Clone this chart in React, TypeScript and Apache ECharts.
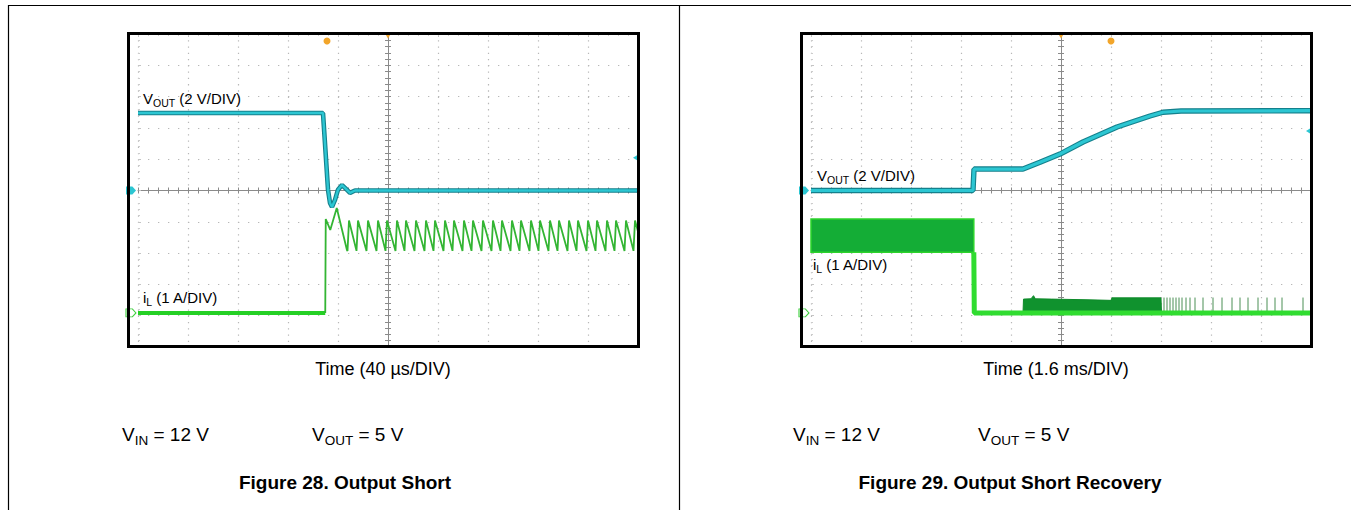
import React, { useEffect, useRef } from "react";
import * as echarts from "echarts";

const FONT = '"Liberation Sans", Arial, Helvetica, sans-serif';

// ---------- Figure 28: Output Short (time in µs from trigger, 40 µs/DIV) ----------
const shortTimeRange = [-200, 200];
const shortTimeDiv = 40;
// VOUT (V)
const vOutShort: number[][] = [
  [-200, 4.95], [-52.0, 4.95], [-50.4, 3.0], [-48.0, 0.05], [-46.4, -0.8],
  [-44.8, -1.05], [-42.4, -0.6], [-40.0, 0.05], [-36.8, 0.35], [-33.6, 0.1],
  [-30.4, -0.15], [-26.4, 0.0], [200, 0.0],
];
// iL (A)
const iLBeforeShort: number[][] = [[-200, 0], [-50.2, 0]];
const iLAfterShort: number[][] = [
  [-50.2, 0], [-49.8, 3.0], [-46.2, 2.65], [-41.0, 3.35], [-32.8, 2.0],
  [-32.4, 1.98], [-31.2, 2.95], [-25.2, 1.98], [-24.0, 2.95], [-17.2, 1.98], [-16.0, 2.95],
  [-9.2, 1.98], [-8.0, 2.95], [-2.0, 1.98], [-0.8, 2.95], [6.0, 1.98], [7.2, 2.95],
  [13.2, 1.98], [14.4, 2.95], [21.2, 1.98], [22.4, 2.95], [29.2, 1.98], [30.4, 2.95],
  [36.4, 1.98], [37.6, 2.95], [44.4, 1.98], [45.6, 2.95], [51.6, 1.98], [52.8, 2.95],
  [59.6, 1.98], [60.8, 2.95], [66.8, 1.98], [68.0, 2.95], [74.8, 1.98], [76.0, 2.95],
  [82.8, 1.98], [84.0, 2.95], [90.0, 1.98], [91.2, 2.95], [98.0, 1.98], [99.2, 2.95],
  [105.2, 1.98], [106.4, 2.95], [113.2, 1.98], [114.4, 2.95], [120.4, 1.98], [121.6, 2.95],
  [128.4, 1.98], [129.6, 2.95], [135.6, 1.98], [136.8, 2.95], [143.6, 1.98], [144.8, 2.95],
  [150.8, 1.98], [152.0, 2.95], [158.8, 1.98], [160.0, 2.95], [166.0, 1.98], [167.2, 2.95],
  [174.0, 1.98], [175.2, 2.95], [181.2, 1.98], [182.4, 2.95], [189.2, 1.98], [190.4, 2.95],
  [196.4, 1.98], [197.6, 2.95], [200, 2.6],
];
const shortCursorTime = -48.8;
const shortTrigLevel = 2.1;

// ---------- Figure 29: Output Short Recovery (time in µs from trigger, 1.6 ms/DIV) ----------
const recTimeRange = [-8000, 8000];
const recTimeDiv = 1600;
const vOutRecovery: number[][] = [
  [-8000, 0], [-2816, 0], [-2784, 1.37], [-1216, 1.37], [-672, 1.8], [-32, 2.33],
  [704, 3.1], [1792, 4.06], [2848, 4.76], [3264, 5.0], [3840, 5.08], [8000, 5.1],
];
// [tStart, tEnd, iLow, iHigh] of the switching envelope
const iLSwitchBand: number[][] = [[-8000, -2790, 1.94, 3.0]];
const iLRecovery: number[][] = [[-2790, 1.94], [-2775, 0], [8000, 0]];
const iLRecoveryBurst: number[][] = [
  [-1216, 0], [-1200, 0.44], [-960, 0.45], [-880, 0.55], [-820, 0.45], [-300, 0.44],
  [800, 0.42], [1600, 0.4], [1632, 0.48], [3200, 0.48], [3216, 0],
];
const iLSpikeTimes = [
  3296, 3392, 3488, 3584, 3680, 3776, 3872, 4000, 4128, 4288, 4544, 4864, 5152,
  5472, 5728, 5984, 6304, 6592, 6848, 7072, 7744,
];
const iLSpikeLevel = 0.49;
const recCursorTime = 1600;
const recTrigLevel = 3.8;

// ---------- vertical scales (10 divisions) ----------
const voltRange = [-10, 10]; // 2 V/DIV
const voltDiv = 2;
const ampRange = [-1.09, 8.91]; // 1 A/DIV

const DOT = "#b8b8b8";
const CROSS = "#8a8a8a";
const CYAN = "#2cc6d2";
const CYAN_DARK = "#14808c";
const GREEN = "#25d025";

function xAxesFor(g: number, range: number[], div: number) {
  const base = { gridIndex: g, type: "value", min: range[0], max: range[1], interval: div, axisLabel: { show: false } };
  return [
    {
      ...base, position: "bottom",
      axisLine: { show: false, onZero: false }, axisTick: { show: false },
      splitLine: { show: true, lineStyle: { color: DOT, width: 1.2, type: [1.3, 4.96] } },
    },
    {
      ...base, position: "bottom",
      axisLine: { show: true, onZero: true, onZeroAxisIndex: g * 4, lineStyle: { color: CROSS, width: 1 } },
      axisTick: { show: true, inside: false, length: 3, lineStyle: { color: CROSS } },
      minorTick: { show: true, splitNumber: 5, length: 3, lineStyle: { color: CROSS } },
      splitLine: { show: false },
    },
    {
      ...base, position: "bottom",
      axisLine: { show: false, onZero: true, onZeroAxisIndex: g * 4 },
      axisTick: { show: true, inside: true, length: 3, lineStyle: { color: CROSS } },
      minorTick: { show: true, splitNumber: 5, length: 3, lineStyle: { color: CROSS } },
      splitLine: { show: false },
    },
    {
      ...base, position: "top",
      axisLine: { show: false, onZero: false },
      axisTick: { show: true, inside: true, length: 3, lineStyle: { color: "#c4c4c4" } },
      minorTick: { show: true, splitNumber: 5, length: 2, lineStyle: { color: "#cccccc" } },
      splitLine: { show: false },
    },
  ];
}

function yAxesFor(g: number) {
  const volt = { gridIndex: g, type: "value", min: voltRange[0], max: voltRange[1], interval: voltDiv, position: "left", axisLabel: { show: false } };
  return [
    {
      ...volt,
      axisLine: { show: true, onZero: true, onZeroAxisIndex: g * 4, lineStyle: { color: CROSS, width: 1 } },
      axisTick: { show: true, inside: true, length: 3, lineStyle: { color: CROSS } },
      minorTick: { show: true, splitNumber: 5, length: 3, lineStyle: { color: CROSS } },
      splitLine: { show: true, lineStyle: { color: DOT, width: 1.2, type: [1.3, 8.7] } },
    },
    {
      ...volt,
      axisLine: { show: false, onZero: true, onZeroAxisIndex: g * 4 },
      axisTick: { show: true, inside: false, length: 3, lineStyle: { color: CROSS } },
      minorTick: { show: true, splitNumber: 5, length: 3, lineStyle: { color: CROSS } },
      splitLine: { show: false },
    },
    { gridIndex: g, type: "value", min: ampRange[0], max: ampRange[1], position: "left", show: false },
    {
      ...volt,
      axisLine: { show: false, onZero: false },
      axisTick: { show: true, inside: true, length: 3, lineStyle: { color: "#c4c4c4" } },
      minorTick: { show: true, splitNumber: 5, length: 2, lineStyle: { color: "#cccccc" } },
      splitLine: { show: false },
    },
  ];
}

const groundMarkPath = "path://M0,0L7,0L11,4L7,8L0,8Z";

function vOutSeries(g: number, data: number[][], tMin: number, tMax: number, cursorT: number, trigLevel: number, w: number) {
  return [
    {
      type: "line", xAxisIndex: g * 4, yAxisIndex: g * 4, data, symbol: "none", silent: true,
      lineStyle: { color: CYAN_DARK, width: w + 2.2 }, z: 5,
    },
    {
      type: "line", xAxisIndex: g * 4, yAxisIndex: g * 4, data, symbol: "none", silent: true,
      lineStyle: { color: CYAN, width: w }, z: 6,
      markPoint: {
        silent: true, label: { show: false },
        data: [
          { coord: [tMin, 0], symbol: groundMarkPath, symbolSize: [10, 8], symbolOffset: [-7, 0], itemStyle: { color: CYAN } },
          { coord: [tMax, trigLevel], symbol: "triangle", symbolRotate: 90, symbolSize: [5, 4], symbolOffset: [-3, 0], itemStyle: { color: CYAN } },
          { coord: [cursorT, voltRange[1]], symbol: "circle", symbolSize: 7, symbolOffset: [0, 7], itemStyle: { color: "#f2a52a" } },
          { coord: [0, voltRange[1]], symbol: "triangle", symbolRotate: 180, symbolSize: [6, 5], symbolOffset: [0, 2], itemStyle: { color: "#f2a52a" } },
        ],
      },
    },
  ];
}

function greenGround(tMin: number) {
  return {
    silent: true, label: { show: false },
    data: [
      {
        coord: [tMin, 0], symbol: groundMarkPath, symbolSize: [10, 8], symbolOffset: [-7, 0],
        itemStyle: { color: "rgba(255,255,255,0)", borderColor: "#3fcf3f", borderWidth: 1 },
      },
    ],
  };
}

function scopeLabel(x: number, baseline: number, main: string, sub: string, rest: string, drop: number) {
  const F = 15, f = 10.5, H = 20;
  const Ls = H - 2 * (0.3465 * (F - f) + drop);
  return {
    type: "text", z: 100, x, y: baseline - H / 2 - 0.3465 * F,
    style: {
      text: `{m|${main}}{s|${sub}}{m|${rest}}`, verticalAlign: "top", align: "left",
      rich: {
        m: { fontSize: F, lineHeight: H, fontFamily: FONT, fill: "#000" },
        s: { fontSize: f, lineHeight: Ls, fontFamily: FONT, fill: "#000", verticalAlign: "bottom" },
      },
    },
  };
}

function condLabel(x: number, baseline: number, sub: string, rest: string) {
  const F = 19, f = 13.5, H = 26, drop = 4.5;
  const Ls = H - 2 * (0.3465 * (F - f) + drop);
  return {
    type: "text", z: 100, x, y: baseline - H / 2 - 0.3465 * F,
    style: {
      text: `{m|V}{s|${sub}}{m|${rest}}`, verticalAlign: "top", align: "left",
      rich: {
        m: { fontSize: F, lineHeight: H, fontFamily: FONT, fill: "#000" },
        s: { fontSize: f, lineHeight: Ls, fontFamily: FONT, fill: "#000", verticalAlign: "bottom" },
      },
    },
  };
}

function centerText(x: number, baseline: number, text: string, size: number, bold: boolean) {
  return {
    type: "text", z: 100, x, y: baseline - 0.3465 * size,
    style: {
      text, align: "center", verticalAlign: "middle", fontSize: size, fontFamily: FONT,
      fontWeight: bold ? "bold" : "normal", fill: "#000",
    },
  };
}

export default function App() {
  const ref = useRef<HTMLDivElement>(null);
  useEffect(() => {
    if (!ref.current) return;
    const chart = echarts.init(ref.current, undefined, { renderer: "svg" });
    const option: any = {
      animation: false,
      backgroundColor: "#ffffff",
      grid: [
        { left: 138, top: 34, width: 500, height: 313 },
        { left: 811, top: 34, width: 500, height: 313 },
      ],
      xAxis: [...xAxesFor(0, shortTimeRange, shortTimeDiv), ...xAxesFor(1, recTimeRange, recTimeDiv)],
      yAxis: [...yAxesFor(0), ...yAxesFor(1)],
      series: [
        // ---- left: output short ----
        {
          type: "line", xAxisIndex: 0, yAxisIndex: 2, data: iLBeforeShort, symbol: "none", silent: true,
          lineStyle: { color: GREEN, width: 4 }, z: 3, markPoint: greenGround(shortTimeRange[0]),
        },
        {
          type: "line", xAxisIndex: 0, yAxisIndex: 2, data: iLAfterShort, symbol: "none", silent: true,
          lineStyle: { color: "#33b533", width: 1.8 }, z: 3,
        },
        ...vOutSeries(0, vOutShort, shortTimeRange[0], shortTimeRange[1], shortCursorTime, shortTrigLevel, 2.4),
        // ---- right: recovery ----
        {
          type: "custom", xAxisIndex: 4, yAxisIndex: 6, data: iLSwitchBand, silent: true, z: 3,
          encode: { x: [0, 1], y: [2, 3] },
          renderItem: (_p: any, api: any) => {
            const a = api.coord([api.value(0), api.value(3)]);
            const b = api.coord([api.value(1), api.value(2)]);
            return {
              type: "rect",
              shape: { x: a[0], y: a[1], width: b[0] - a[0], height: b[1] - a[1] },
              style: { fill: "#14ad36", stroke: "#2bd42b", lineWidth: 1.5 },
            };
          },
        },
        {
          type: "line", xAxisIndex: 4, yAxisIndex: 6, data: iLRecoveryBurst, symbol: "none", silent: true,
          lineStyle: { color: "#0e8a2a", width: 1 }, areaStyle: { color: "#10922e", opacity: 1 }, z: 3,
        },
        {
          type: "custom", xAxisIndex: 4, yAxisIndex: 6, silent: true, z: 3,
          data: iLSpikeTimes.map((t) => [t, iLSpikeLevel]),
          encode: { x: 0, y: 1 },
          renderItem: (_p: any, api: any) => {
            const p0 = api.coord([api.value(0), 0]);
            const p1 = api.coord([api.value(0), api.value(1)]);
            return {
              type: "line",
              shape: { x1: p0[0], y1: p0[1], x2: p1[0], y2: p1[1] },
              style: { stroke: "#4a8f55", lineWidth: 1 },
            };
          },
        },
        {
          type: "line", xAxisIndex: 4, yAxisIndex: 6, data: iLRecovery, symbol: "none", silent: true,
          lineStyle: { color: "#30dc30", width: 5 }, z: 4, markPoint: greenGround(recTimeRange[0]),
        },
        ...vOutSeries(1, vOutRecovery, recTimeRange[0], recTimeRange[1], recCursorTime, recTrigLevel, 3.2),
      ],
      graphic: [
        { type: "line", z: 100, shape: { x1: 8, y1: 5.5, x2: 1351, y2: 5.5 }, style: { stroke: "#000", lineWidth: 1.2 } },
        { type: "line", z: 100, shape: { x1: 8.5, y1: 5, x2: 8.5, y2: 510 }, style: { stroke: "#000", lineWidth: 1.2 } },
        { type: "line", z: 100, shape: { x1: 679.5, y1: 5, x2: 679.5, y2: 510 }, style: { stroke: "#000", lineWidth: 1.2 } },
        { type: "rect", z: 100, shape: { x: 128.5, y: 33.5, width: 510, height: 313 }, style: { fill: "rgba(0,0,0,0)", stroke: "#000", lineWidth: 3 } },
        { type: "rect", z: 100, shape: { x: 801.5, y: 33.5, width: 510, height: 313 }, style: { fill: "rgba(0,0,0,0)", stroke: "#000", lineWidth: 3 } },
        scopeLabel(143, 103.5, "V", "OUT", " (2 V/DIV)", 0.5),
        scopeLabel(143, 303, "i", "L", " (1 A/DIV)", 1.5),
        scopeLabel(817, 181, "V", "OUT", " (2 V/DIV)", 0.5),
        scopeLabel(813, 270, "i", "L", " (1 A/DIV)", 1.5),
        centerText(383, 375, "Time (40 µs/DIV)", 18, false),
        centerText(1056, 375, "Time (1.6 ms/DIV)", 18, false),
        condLabel(122, 441.5, "IN", " = 12 V"),
        condLabel(312, 441.5, "OUT", " = 5 V"),
        condLabel(793, 441, "IN", " = 12 V"),
        condLabel(978, 441, "OUT", " = 5 V"),
        centerText(345, 489, "Figure 28. Output Short", 19, true),
        centerText(1010, 489, "Figure 29. Output Short Recovery", 19, true),
      ],
    };
    chart.setOption(option);
    return () => chart.dispose();
  }, []);
  return <div ref={ref} style={{ position: "absolute", left: 0, top: 0, width: 1351, height: 510 }} />;
}
